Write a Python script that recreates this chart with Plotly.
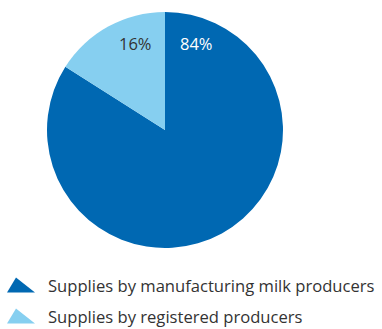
import plotly.graph_objects as go

categories = ["Supplies by manufacturing milk producers", "Supplies by registered producers"]
values = [84, 16]
colors = ["#0068b2", "#86cff0"]
label_colors = ["#ffffff", "#333333"]

W, H = 382, 329

def px(x):
    return x / W

def py(y):
    return 1 - y / H

fig = go.Figure()
fig.add_trace(go.Pie(
    labels=categories, values=values, sort=False, direction="clockwise", rotation=0,
    marker=dict(colors=colors, line=dict(width=0)),
    textinfo="none", hoverinfo="label+percent", showlegend=False,
    domain=dict(x=[px(47), px(283)], y=[py(248), py(12)]),
))

# slice labels near the top of the pie
label_pos = [(197, 43), (135, 43)]
for v, c, (x, y) in zip(values, label_colors, label_pos):
    fig.add_annotation(x=px(x), y=py(y), xref="paper", yref="paper", text=f"{v}%",
                       xanchor="center", yanchor="middle",
                       showarrow=False, font=dict(family="Open Sans", size=16.5, color=c))

# custom legend with wedge-shaped icons
leg_y = [285, 316]
for cat, col, yc in zip(categories, colors, leg_y):
    top, bot = yc - 7.5, yc + 7.5
    path = f"M {px(7)} {py(bot)} L {px(16)} {py(top)} L {px(35)} {py(bot)} Z"
    fig.add_shape(type="path", path=path, xref="paper", yref="paper",
                  fillcolor=col, line=dict(width=0))
    fig.add_annotation(x=px(46), y=py(yc), xref="paper", yref="paper", text=cat,
                       xanchor="left", yanchor="middle", showarrow=False,
                       font=dict(family="Open Sans", size=16.6, color="#333333"))

fig.update_layout(width=W, height=H, margin=dict(l=0, r=0, t=0, b=0),
                  paper_bgcolor="white", plot_bgcolor="white")
fig.write_html("out.html", config={"displayModeBar": False},
               post_script="document.body.style.margin='0';document.body.style.padding='0';")
